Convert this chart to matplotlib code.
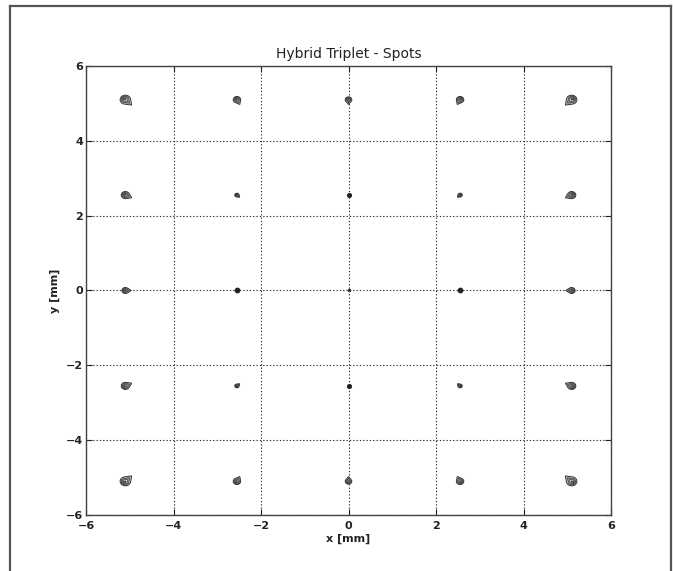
import numpy as np
import matplotlib
matplotlib.use("Agg")
import matplotlib.pyplot as plt
from matplotlib.patches import Polygon
from matplotlib.lines import Line2D

# Field points (mm) of the spot grid
field_x = [-5.1, -2.55, 0.0, 2.55, 5.1]
field_y = [5.1, 2.55, 0.0, -2.55, -5.1]

# Spot head radius (mm) per field point, rows follow field_y
spot_radius = [
    [0.120, 0.085, 0.075, 0.085, 0.120],
    [0.095, 0.050, 0.030, 0.050, 0.095],
    [0.080, 0.035, 0.015, 0.035, 0.080],
    [0.095, 0.050, 0.030, 0.050, 0.095],
    [0.120, 0.085, 0.075, 0.085, 0.120],
]

ticks = [-6, -4, -2, 0, 2, 4, 6]

fig = plt.figure(figsize=(6.73, 5.71), dpi=100)
ax = fig.add_axes([0.1278, 0.0981, 0.7801, 0.7863])


def teardrop(cx, cy, r, direction, scale=1.0, n=60):
    """Outline of a comet-shaped spot: round head, pointed tail along direction."""
    L = 1.7 * r
    a = np.arccos(r / L)
    t = np.linspace(direction + a, direction + 2 * np.pi - a, n)
    xs = list(r * np.cos(t))
    ys = list(r * np.sin(t))
    xs.append(L * np.cos(direction))
    ys.append(L * np.sin(direction))
    xs = np.array(xs) * scale
    ys = np.array(ys) * scale
    # nested rings sit toward the head side
    shift = (1 - scale) * 0.35 * r
    xs -= shift * np.cos(direction)
    ys -= shift * np.sin(direction)
    return np.column_stack([cx + xs, cy + ys])


for j, fy in enumerate(field_y):
    for i, fx in enumerate(field_x):
        r = spot_radius[j][i]
        rad = np.hypot(fx, fy)
        if rad < 1e-6:
            ax.plot(fx, fy, "o", ms=1.5, color="#333333", zorder=3)
            continue
        direction = np.arctan2(-fy, -fx)
        if r < 0.045:
            ax.plot(fx, fy, "o", ms=r * 90, color="#222222", mec="#222222", zorder=3)
            continue
        ax.add_patch(Polygon(teardrop(fx, fy, r, direction, 1.0), closed=True,
                             facecolor="#c8c8c8", edgecolor="#333333", lw=0.7, zorder=3))
        for s, fc in [(0.72, "#9a9a9a"), (0.45, "#e0e0e0"), (0.22, "#666666")]:
            ax.add_patch(Polygon(teardrop(fx, fy, r, direction, s), closed=True,
                                 facecolor=fc, edgecolor="#333333", lw=0.5, zorder=3))

ax.set_xlim(-6, 6)
ax.set_ylim(-6, 6)
ax.set_xticks(ticks)
ax.set_yticks(ticks)
ax.set_xticklabels([f"\u2212{abs(t)}" if t < 0 else str(t) for t in ticks])
ax.set_yticklabels([f"\u2212{abs(t)}" if t < 0 else str(t) for t in ticks])
ax.grid(True, linestyle=(0, (1.2, 1.8)), color="#333333", linewidth=0.8)
ax.set_axisbelow(True)
ax.tick_params(direction="in", length=4, width=0.8, top=True, right=True,
               labelsize=8, colors="#222222")
ax.tick_params(axis="x", pad=4)
ax.tick_params(axis="y", pad=2)
for lab in ax.get_xticklabels() + ax.get_yticklabels():
    lab.set_fontweight("bold")
for sp in ax.spines.values():
    sp.set_color("#444444")
    sp.set_linewidth(1.0)

ax.set_title("Hybrid Triplet - Spots", fontsize=10, color="#222222", pad=6)
ax.set_xlabel("x [mm]", fontsize=8, fontweight="bold", color="#222222", labelpad=2)
ax.set_ylabel("y [mm]", fontsize=8, fontweight="bold", color="#222222", labelpad=4)

# Page frame: left, top and right edges
W, H = 673, 571
frame_kw = dict(color="#555555", linewidth=1.6, transform=fig.transFigure)
fig.add_artist(Line2D([9.5 / W, 9.5 / W], [0, 1 - 5.5 / H], **frame_kw))
fig.add_artist(Line2D([9.5 / W, 670.5 / W], [1 - 5.5 / H, 1 - 5.5 / H], **frame_kw))
fig.add_artist(Line2D([670.5 / W, 670.5 / W], [0, 1 - 5.5 / H], **frame_kw))

fig.savefig("out.png", dpi=100)
